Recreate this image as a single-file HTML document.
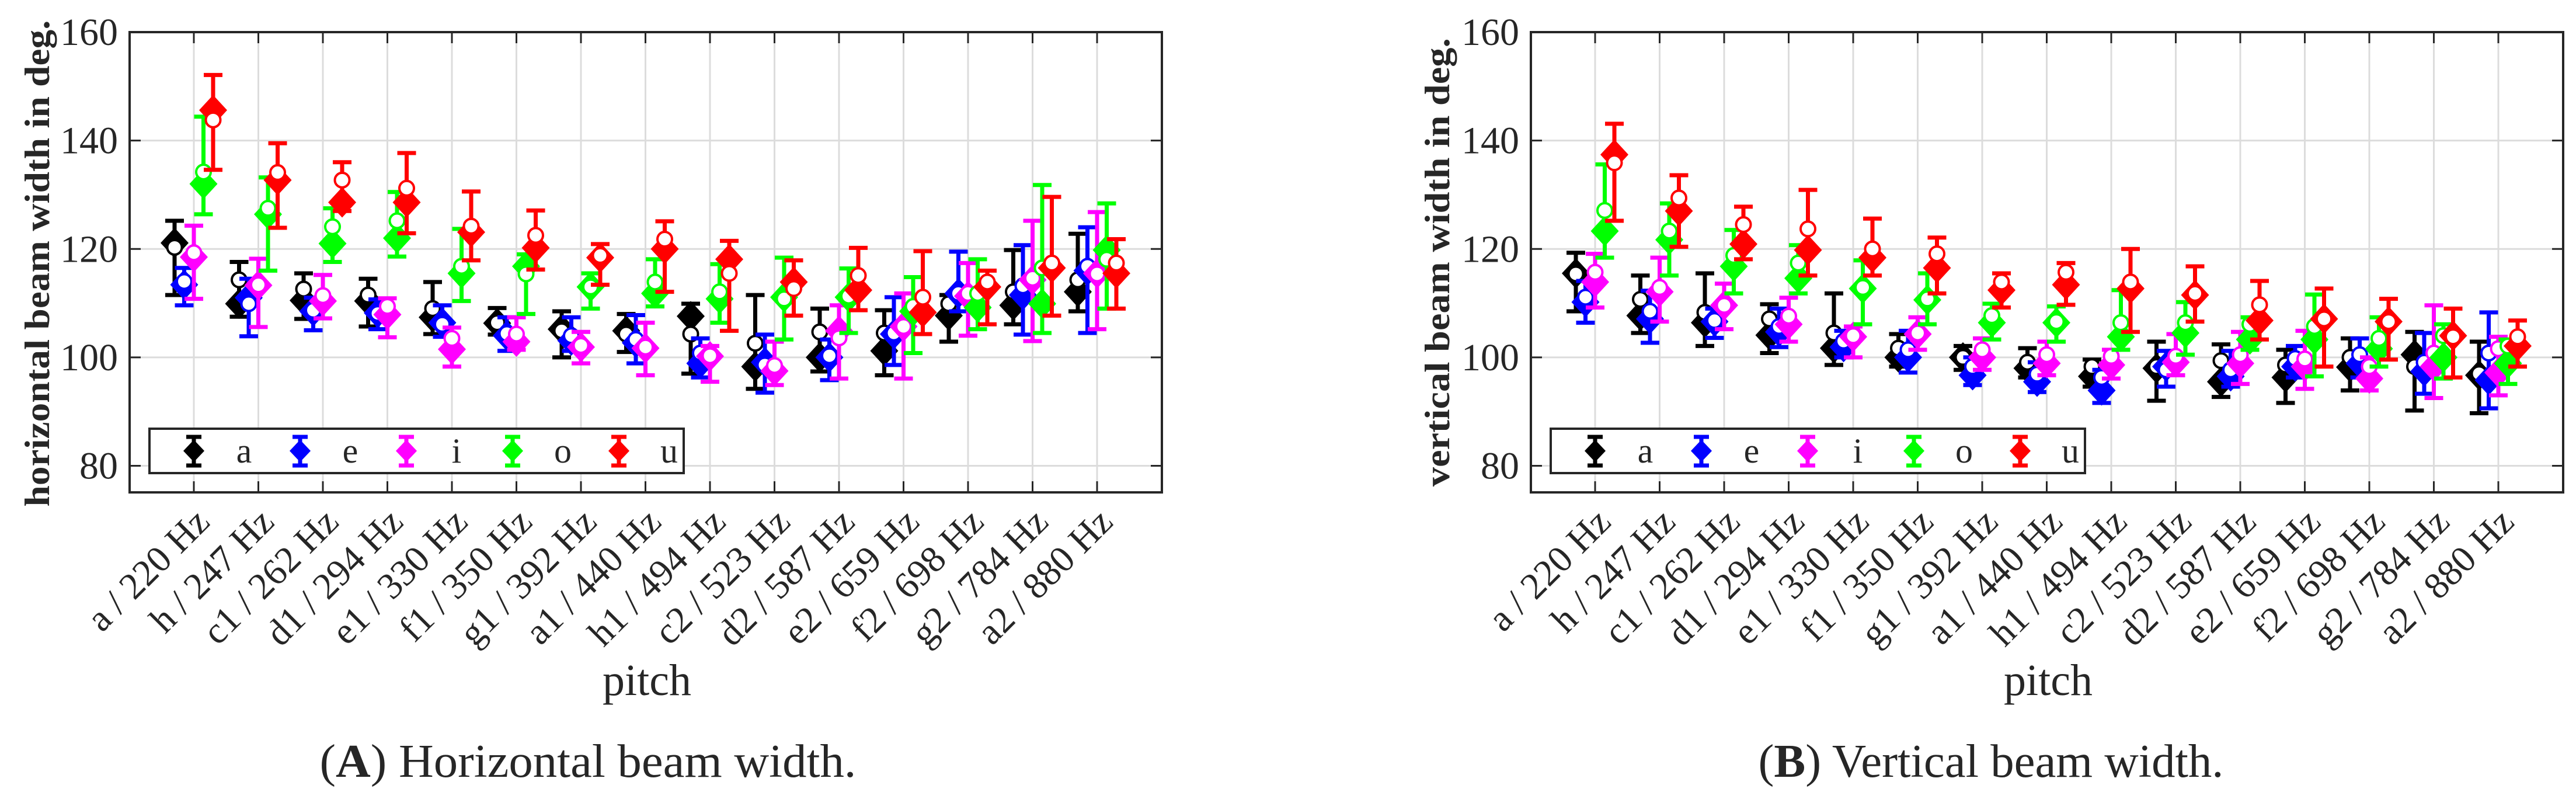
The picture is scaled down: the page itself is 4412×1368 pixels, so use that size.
<!DOCTYPE html>
<html><head><meta charset="utf-8"><style>
html,body{margin:0;padding:0;background:#fff;}
svg{display:block;}
text{font-family:"Liberation Serif",serif;fill:#262626;}
</style></head>
<body>
<svg id="fig" width="4412" height="1368" viewBox="0 0 4412 1368" xmlns="http://www.w3.org/2000/svg">
<g id="panelA"></g>
<g id="panelB"></g>
<text x="1007" y="1330" font-size="80" text-anchor="middle" textLength="919" lengthAdjust="spacingAndGlyphs" fill="#111">(<tspan font-weight="bold">A</tspan>) Horizontal beam width.</text>
<text x="3410" y="1330" font-size="80" text-anchor="middle" textLength="797" lengthAdjust="spacingAndGlyphs" fill="#111">(<tspan font-weight="bold">B</tspan>) Vertical beam width.</text>
</svg>
<script>
const categories = ["a / 220 Hz","h / 247 Hz","c1 / 262 Hz","d1 / 294 Hz","e1 / 330 Hz","f1 / 350 Hz","g1 / 392 Hz","a1 / 440 Hz","h1 / 494 Hz","c2 / 523 Hz","d2 / 587 Hz","e2 / 659 Hz","f2 / 698 Hz","g2 / 784 Hz","a2 / 880 Hz"];
const vowels = ["a","e","i","o","u"];
const vowelColors = ["#000000","#0000ff","#ff00ff","#00ff00","#ff0000"];
const yTicks = [80,100,120,140,160];

// Horizontal: rows = pitch, cols = a,e,i,o,u
const hDiamond = [
[121.1,113.4,118.5,132.0,145.6],[109.9,111.0,113.3,126.4,132.7],[110.5,108.5,110.4,121.0,128.6],[110.4,108.2,107.9,122.0,128.6],[107.4,106.4,101.5,115.5,123.1],
[106.3,104.0,102.9,116.8,120.2],[105.2,103.1,101.9,113.0,118.4],[104.9,102.7,101.7,111.8,120.0],[107.6,98.9,100.2,110.8,118.1],[98.3,99.1,97.5,111.1,113.9],
[100.0,100.0,104.9,111.1,112.4],[101.2,104.3,105.7,108.5,108.3],[107.7,111.8,111.3,109.2,113.0],[109.6,111.5,114.3,109.9,116.5],[112.1,116.0,115.5,119.8,115.5]];
const hCircle = [
[120.3,114.0,119.3,134.2,143.8],[114.3,109.9,113.4,127.5,134.1],[112.6,108.7,111.4,124.1,132.7],[111.5,108.1,109.4,125.2,131.2],[109.0,106.1,103.5,116.8,124.2],
[106.4,104.4,104.3,115.4,122.5],[104.9,104.0,102.2,113.0,118.8],[104.3,103.3,101.9,113.9,121.8],[104.3,100.8,100.3,112.1,115.5],[102.6,98.6,98.5,110.8,112.7],
[104.7,100.3,103.6,111.3,115.1],[104.5,104.5,105.7,109.4,111.1],[109.9,111.8,111.8,111.8,113.9],[112.1,113.2,114.6,116.5,117.4],[114.3,116.8,115.4,118.1,117.4]];
const hLow = [
[111.5,109.6,110.8,126.4,134.6],[107.5,103.9,105.6,116.0,123.9],[107.1,105.0,107.2,117.6,127.0],[105.7,105.2,103.7,118.6,122.9],[104.3,103.8,98.3,110.4,117.9],
[104.2,101.2,101.4,108.0,116.2],[100.0,101.2,98.9,109.0,113.4],[101.0,98.9,96.7,109.4,112.1],[97.0,96.3,95.5,106.4,104.9],[94.2,93.5,94.9,103.3,107.7],
[97.4,95.8,96.1,104.5,108.7],[96.7,98.6,96.1,100.8,104.3],[102.9,108.5,104.0,105.2,106.1],[106.1,104.2,103.0,104.5,107.7],[108.5,104.5,105.2,109.0,109.0]];
const hHigh = [
[125.2,116.5,124.3,144.4,152.1],[117.6,114.5,118.2,133.2,139.5],[115.5,111.0,115.2,127.5,136.0],[114.5,110.7,110.9,130.5,137.7],[113.9,109.6,105.5,123.7,130.6],
[109.1,107.4,107.4,119.0,127.1],[108.5,107.4,104.7,115.5,120.9],[108.0,107.8,106.4,118.1,125.1],[109.9,103.5,102.1,117.2,121.5],[111.5,104.2,102.9,118.4,117.9],
[109.0,103.3,109.6,116.4,120.2],[108.7,111.1,111.8,114.8,119.6],[111.5,119.5,117.4,118.1,116.0],[119.8,120.7,125.2,131.8,129.6],[122.8,124.0,126.8,128.4,121.8]];

// Vertical
const vDiamond = [
[115.5,110.2,113.9,123.3,137.4],[107.7,107.1,112.1,121.7,127.0],[106.4,106.6,109.6,116.8,120.9],[104.1,104.7,106.1,114.6,119.8],[101.7,101.9,103.8,112.7,118.4],
[100.0,100.0,104.3,110.6,116.5],[100.0,96.7,100.0,106.4,112.4],[98.0,95.5,98.9,106.4,113.4],[96.5,93.9,98.6,103.8,112.7],[98.0,98.3,99.1,104.5,111.5],
[95.5,96.5,98.9,103.3,106.8],[96.3,98.3,98.3,103.3,107.1],[98.2,98.9,96.1,101.6,106.6],[100.5,97.4,98.3,100.0,104.0],[96.7,95.8,97.2,98.9,102.1]];
const vCircle = [
[115.4,111.1,115.7,127.1,135.9],[110.7,108.5,112.9,123.3,129.4],[108.3,106.8,109.6,118.8,124.5],[107.1,105.7,107.6,117.4,123.7],[104.5,103.0,104.0,112.9,120.0],
[101.7,101.4,104.5,110.8,119.1],[100.0,98.3,101.4,107.7,113.9],[99.1,96.9,100.5,106.6,115.7],[98.3,96.3,100.2,106.4,113.9],[98.3,97.7,100.2,106.4,111.8],
[99.4,97.7,100.5,106.1,109.7],[98.6,99.8,99.7,105.7,107.1],[100.0,100.5,98.3,103.5,106.6],[98.3,99.1,100.8,104.0,103.8],[97.0,100.8,101.6,102.1,103.8]];
const vLow = [
[108.5,106.4,109.2,118.4,125.2],[104.5,102.7,106.6,115.1,120.4],[102.1,103.6,105.2,111.8,118.1],[100.8,101.9,102.9,111.8,115.1],[98.6,100.0,100.0,106.1,115.1],
[98.3,97.2,101.4,106.1,111.8],[97.7,94.9,97.7,103.3,109.2],[96.3,93.6,96.7,102.9,109.7],[94.6,91.6,96.1,101.4,104.7],[92.0,94.6,96.7,100.5,106.6],
[92.7,94.6,95.1,101.4,103.3],[91.6,96.3,94.2,96.5,98.3],[93.9,96.3,93.9,98.3,99.6],[90.2,93.3,92.5,96.1,96.3],[89.7,90.6,93.0,95.1,98.3]];
const vHigh = [
[119.3,114.1,119.1,135.6,143.1],[115.1,112.3,118.4,128.4,133.6],[115.5,109.0,113.6,123.5,127.8],[109.8,109.0,111.0,120.7,130.9],[111.8,104.9,105.7,117.9,125.6],
[104.3,104.9,107.4,115.5,122.1],[102.1,100.0,103.5,109.9,115.5],[101.7,99.1,102.9,109.4,117.4],[99.6,97.7,101.4,112.4,120.0],[102.9,101.2,104.3,110.2,116.8],
[102.4,101.2,104.7,107.4,114.1],[101.4,102.1,104.9,111.6,112.7],[103.5,103.5,100.0,107.4,110.8],[104.7,104.5,109.6,106.1,109.0],[102.9,108.3,103.8,103.3,106.8]];

const NS = "http://www.w3.org/2000/svg";
function mk(parent, tag, attrs){ const e=document.createElementNS(NS,tag); for(const k in attrs) e.setAttribute(k,attrs[k]); parent.appendChild(e); return e; }

function drawPanel(g, opts, D, C, L, H){
  const x0=opts.x0, x1=opts.x0+1768, yTop=55, yBot=843;
  const yMin=75.1, yMax=160;
  const y = v => yTop + (yMax - v) * (yBot - yTop) / (yMax - yMin);
  const xc = i => x0 + 110 + i * 110.5;
  const offs = [-33,-16.5,0,16.5,33];
  categories.forEach((c,i)=>{
    const l=mk(g,'line',{x1:xc(i),x2:xc(i),y1:yTop,y2:yBot,stroke:'#dcdcdc','stroke-width':3});
     
  });
  yTicks.forEach(t=>{
    const l=mk(g,'line',{x1:x0,x2:x1,y1:y(t),y2:y(t),stroke:'#dcdcdc','stroke-width':3});
     
  });
  categories.forEach((c,i)=>{
    const t1=mk(g,'line',{x1:xc(i),x2:xc(i),y1:yBot,y2:yBot-19,stroke:'#262626','stroke-width':3});
     
    const t2=mk(g,'line',{x1:xc(i),x2:xc(i),y1:yTop,y2:yTop+19,stroke:'#262626','stroke-width':3});
     
    const tx=xc(i)+30, ty=897;
    const lb=mk(g,'text',{x:tx,y:ty,'font-size':64,'text-anchor':'end',transform:`rotate(-45 ${tx} ${ty})`});
    lb.textContent=c;
     
  });
  yTicks.forEach(t=>{
    const a=mk(g,'line',{x1:x0,x2:x0+19,y1:y(t),y2:y(t),stroke:'#262626','stroke-width':3});
     
    const b=mk(g,'line',{x1:x1,x2:x1-19,y1:y(t),y2:y(t),stroke:'#262626','stroke-width':3});
     
    const lb=mk(g,'text',{x:x0-20,y:y(t)+22,'font-size':66,'text-anchor':'end'});
    lb.textContent=t;
     
  });
  vowels.forEach((vw,j)=>{
    const col=vowelColors[j];
    const sg=mk(g,'g',{});
     
    categories.forEach((c,i)=>{
      const x=xc(i)+offs[j];
      const eb=mk(sg,'path',{d:`M${x},${y(L[i][j])}V${y(H[i][j])}M${x-16},${y(L[i][j])}H${x+16}M${x-16},${y(H[i][j])}H${x+16}`,stroke:col,'stroke-width':7,fill:'none'});
       
      const yd=y(D[i][j]);
      const dm=mk(sg,'path',{d:`M${x},${yd-26}L${x+24},${yd}L${x},${yd+26}L${x-24},${yd}Z`,fill:col});
       
      const ci=mk(sg,'circle',{cx:x,cy:y(C[i][j]),r:12.5,fill:'#fff',stroke:col,'stroke-width':4});
       
    });
  });
  const box=mk(g,'rect',{x:x0,y:yTop,width:1768,height:yBot-yTop,fill:'none',stroke:'#262626','stroke-width':4});
   
  const lg=mk(g,'g',{});
   
  const lx=x0+34;
  const lr=mk(lg,'rect',{x:lx,y:734,width:915,height:76,fill:'#fff',stroke:'#262626','stroke-width':4});
   
  vowels.forEach((vw,j)=>{
    const mx=lx+76+j*182;
    const ent=mk(lg,'g',{});
     
    mk(ent,'path',{d:`M${mx},746V799M${mx-13},748H${mx+13}M${mx-13},797H${mx+13}`,stroke:vowelColors[j],'stroke-width':7,fill:'none'});
    mk(ent,'path',{d:`M${mx},753L${mx+18},772L${mx},791L${mx-18},772Z`,fill:vowelColors[j]});
    const t=mk(ent,'text',{x:mx+86,y:792,'font-size':60,'text-anchor':'middle',fill:'#000'});
    t.textContent=vw;
  });
  const yl=mk(g,'text',{x:opts.ylx,y:opts.ylc,'font-size':60,'font-weight':'bold','text-anchor':'middle',textLength:opts.yllen,lengthAdjust:'spacingAndGlyphs',transform:`rotate(-90 ${opts.ylx} ${opts.ylc})`});
  yl.textContent=opts.ylabel;
   
  const xl=mk(g,'text',{x:opts.x0+886,y:1190,'font-size':76,'text-anchor':'middle'});
  xl.textContent='pitch';
   
}
drawPanel(document.getElementById('panelA'),{x0:222,ylx:84,ylc:451,yllen:833,ylabel:'horizontal beam width in deg.'},hDiamond,hCircle,hLow,hHigh);
drawPanel(document.getElementById('panelB'),{x0:2622,ylx:2482,ylc:449,yllen:768,ylabel:'vertical beam width in deg.'},vDiamond,vCircle,vLow,vHigh);
</script>
</body></html>
